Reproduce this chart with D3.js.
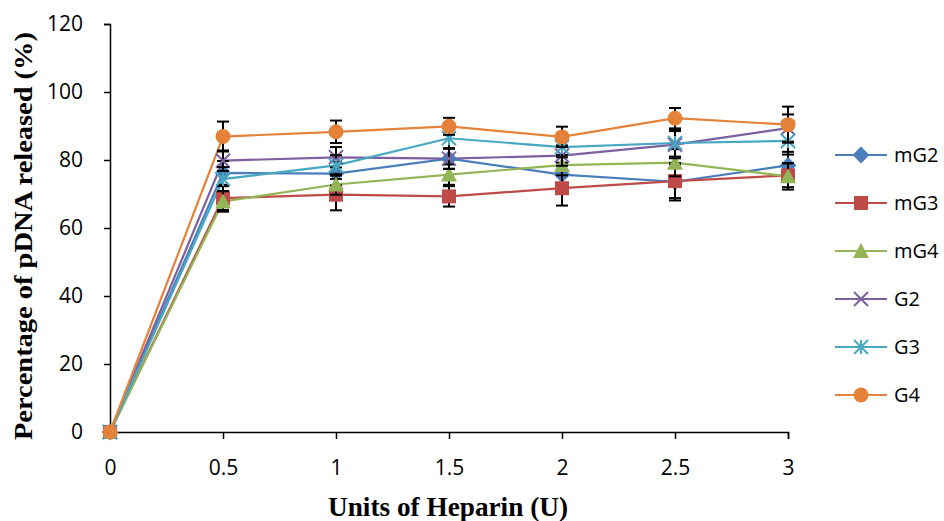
<!DOCTYPE html>
<html>
<head>
<meta charset="utf-8">
<script src="https://cdn.jsdelivr.net/npm/d3@7"></script>
<style>
  html, body { margin: 0; padding: 0; background: #fff; }
  svg { display: block; }
</style>
</head>
<body>
<svg id="chart" width="944" height="521"></svg>
<script>
// Heparin units tested
const units = [0, 0.5, 1, 1.5, 2, 2.5, 3];
const xTicks = [0, 0.5, 1, 1.5, 2, 2.5, 3];
const yTicks = [0, 20, 40, 60, 80, 100, 120];

// Percentage of pDNA released per formulation
const seriesNames = ["mG2", "mG3", "mG4", "G2", "G3", "G4"];
const mG2 = [0, 76.2, 76.0, 80.4, 75.7, 73.6, 78.4];
const mG3 = [0, 68.8, 69.8, 69.3, 71.7, 73.8, 75.5];
const mG4 = [0, 67.8, 72.8, 75.7, 78.5, 79.2, 75.2];
const G2  = [0, 79.8, 80.8, 80.4, 81.3, 84.5, 89.4];
const G3  = [0, 74.4, 78.4, 86.4, 83.8, 85.0, 85.6];
const G4  = [0, 86.9, 88.3, 89.9, 86.8, 92.3, 90.4];

// Standard deviations (error bars)
const mG2Err = [0, 3.5, 3.5, 3.0, 3.5, 5.5, 4.0];
const mG3Err = [0, 3.5, 4.6, 3.0, 5.1, 5.0, 3.5];
const mG4Err = [0, 3.0, 3.0, 3.0, 3.0, 4.0, 3.9];
const G2Err  = [0, 3.0, 3.0, 3.0, 3.0, 4.0, 4.0];
const G3Err  = [0, 3.5, 3.0, 3.0, 3.0, 4.0, 4.0];
const G4Err  = [0, 4.4, 3.3, 2.5, 3.0, 3.0, 5.3];

const values = [mG2, mG3, mG4, G2, G3, G4];
const errors = [mG2Err, mG3Err, mG4Err, G2Err, G3Err, G4Err];
const colors = ["#4a7ebb", "#be4b48", "#93b556", "#7d60a0", "#46a8c3", "#e5823a"];
const markers = ["diamond", "square", "triangle", "x", "asterisk", "circle"];

const svg = d3.select("#chart");
const plot = { left: 110, right: 788, top: 24, bottom: 432 };

const x = d3.scaleLinear().domain([0, 3]).range([plot.left, plot.right]);
const y = d3.scaleLinear().domain([0, 120]).range([plot.bottom, plot.top]);

const tickFont = "'Open Sans', 'Noto Sans', sans-serif";

// Y axis
const yAxis = svg.append("g")
  .attr("transform", `translate(${plot.left},0)`)
  .call(d3.axisLeft(y).tickValues(yTicks).tickSize(6).tickPadding(21).tickFormat(d3.format("d")));
yAxis.select(".domain").attr("stroke", "#000").attr("stroke-width", 1.5);
yAxis.selectAll(".tick line").attr("stroke", "#000").attr("stroke-width", 1.5);
yAxis.selectAll(".tick text")
  .attr("font-family", tickFont).attr("font-size", 21).attr("fill", "#000");

// X axis
const xAxis = svg.append("g")
  .attr("transform", `translate(0,${plot.bottom})`)
  .call(d3.axisBottom(x).tickValues(xTicks).tickSize(7).tickPadding(21).tickFormat(d => String(d)));
xAxis.select(".domain").attr("stroke", "#000").attr("stroke-width", 1.5);
xAxis.selectAll(".tick line").attr("stroke", "#000").attr("stroke-width", 1.5);
xAxis.selectAll(".tick text")
  .attr("font-family", tickFont).attr("font-size", 21).attr("fill", "#000");

// Axis titles
svg.append("text")
  .attr("transform", `translate(32,236) rotate(-90)`)
  .attr("text-anchor", "middle")
  .attr("font-family", "'Liberation Serif', 'DejaVu Serif', serif")
  .attr("font-weight", "bold")
  .attr("font-size", 26)
  .attr("textLength", 408)
  .attr("lengthAdjust", "spacingAndGlyphs")
  .attr("fill", "#000")
  .text("Percentage of pDNA released (%)");

svg.append("text")
  .attr("x", 448).attr("y", 516)
  .attr("text-anchor", "middle")
  .attr("font-family", "'Liberation Serif', 'DejaVu Serif', serif")
  .attr("font-weight", "bold")
  .attr("font-size", 27)
  .attr("textLength", 240)
  .attr("lengthAdjust", "spacingAndGlyphs")
  .attr("fill", "#000")
  .text("Units of Heparin (U)");

// Marker drawing
function drawMarker(g, type, color, size) {
  const s = size;
  if (type === "diamond") {
    g.append("path").attr("d", `M0,${-s * 0.6}L${s * 0.6},0L0,${s * 0.6}L${-s * 0.6},0Z`).attr("fill", color);
  } else if (type === "square") {
    g.append("rect").attr("x", -s / 2).attr("y", -s / 2).attr("width", s).attr("height", s).attr("fill", color);
  } else if (type === "triangle") {
    g.append("path").attr("d", `M0,${-s / 2 - 1}L${s / 2 + 1},${s / 2}L${-s / 2 - 1},${s / 2}Z`).attr("fill", color);
  } else if (type === "x") {
    const h = s / 2;
    g.append("path").attr("d", `M${-h},${-h}L${h},${h}M${-h},${h}L${h},${-h}`)
      .attr("stroke", color).attr("stroke-width", 2).attr("fill", "none");
  } else if (type === "asterisk") {
    const h = s / 2;
    g.append("path").attr("d", `M${-h},${-h}L${h},${h}M${-h},${h}L${h},${-h}M0,${-h}L0,${h}`)
      .attr("stroke", color).attr("stroke-width", 2).attr("fill", "none");
  } else if (type === "circle") {
    g.append("circle").attr("r", s / 2 + 0.5).attr("fill", color);
  }
}

const line = d3.line().x((d, i) => x(units[i])).y(d => y(d));

// Lines
values.forEach((vals, k) => {
  svg.append("path")
    .datum(vals)
    .attr("d", line)
    .attr("fill", "none")
    .attr("stroke", colors[k])
    .attr("stroke-width", 2.2);
});

// Error bars and markers, series by series
values.forEach((vals, k) => {
  const eg = svg.append("g");
  vals.forEach((v, i) => {
    const e = errors[k][i];
    if (!e) return;
    const cx = x(units[i]);
    eg.append("line").attr("x1", cx).attr("x2", cx).attr("y1", y(v - e)).attr("y2", y(v + e))
      .attr("stroke", "#000").attr("stroke-width", 2);
    [v - e, v + e].forEach(t => {
      eg.append("line").attr("x1", cx - 6).attr("x2", cx + 6).attr("y1", y(t)).attr("y2", y(t))
        .attr("stroke", "#000").attr("stroke-width", 2);
    });
  });
  vals.forEach((v, i) => {
    const g = svg.append("g").attr("transform", `translate(${x(units[i])},${y(v)})`);
    drawMarker(g, markers[k], colors[k], 14);
  });
});

// Legend
const legendRowY = d3.scaleLinear().domain([0, 5]).range([155, 395]);
seriesNames.forEach((name, k) => {
  const ly = legendRowY(k);
  svg.append("line").attr("x1", 835).attr("x2", 887).attr("y1", ly).attr("y2", ly)
    .attr("stroke", colors[k]).attr("stroke-width", 2.2);
  const g = svg.append("g").attr("transform", `translate(861,${ly})`);
  drawMarker(g, markers[k], colors[k], 14);
  svg.append("text").attr("x", 894).attr("y", ly + 7)
    .attr("font-family", tickFont).attr("font-size", 20).attr("fill", "#000")
    .text(name);
});
</script>
</body>
</html>
